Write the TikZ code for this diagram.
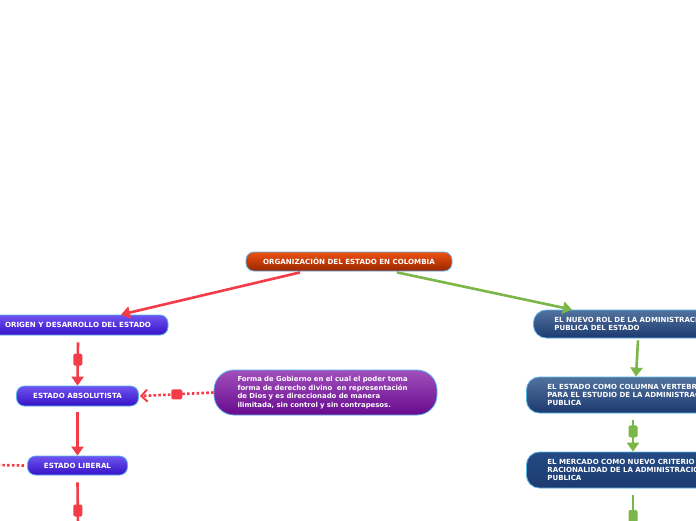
\documentclass[tikz,border=0pt]{standalone}
\usepackage{fontspec}
\setmainfont{DejaVu Sans}
\usepackage{tikz}
\usetikzlibrary{arrows.meta,positioning,calc}

\definecolor{redline}{HTML}{F43C48}
\definecolor{greenline}{HTML}{7AB648}
\definecolor{rimblue}{HTML}{5AB4EC}
\definecolor{roottop}{HTML}{EE5210}
\definecolor{rootbot}{HTML}{982600}
\definecolor{bluetop}{HTML}{6E54F0}
\definecolor{bluebot}{HTML}{3612C6}
\definecolor{violettop}{HTML}{A050BC}
\definecolor{violetbot}{HTML}{680A8E}
\definecolor{navytop}{HTML}{52729E}
\definecolor{navybot}{HTML}{1C3A70}
\definecolor{navydark}{HTML}{244A84}

\tikzset{
  pill/.style={draw=rimblue, line width=0.8pt, rounded corners=8pt, text=white,
    font=\fontsize{7.1}{8}\selectfont\bfseries, inner sep=0pt},
  rootbox/.style={pill, top color=roottop, bottom color=rootbot},
  bluebox/.style={pill, top color=bluetop, bottom color=bluebot},
  violetbox/.style={pill, rounded corners=20pt, top color=violettop, bottom color=violetbot,
    font=\fontsize{6.9}{8.7}\selectfont\bfseries, align=left, text width=176pt},
  navybox/.style={pill, rounded corners=13pt, top color=navytop, bottom color=navybot,
    align=left, text width=240pt, inner xsep=21pt, font=\fontsize{7.05}{8.2}\selectfont\bfseries},
  redarrow/.style={draw=redline, line width=2.6pt, -{Triangle[width=12pt,length=9pt]}},
  greenarrow/.style={draw=greenline, line width=2.6pt, -{Triangle[width=12pt,length=9pt]}},
  dotline/.style={draw=redline, line width=2.6pt, dash pattern=on 2.6pt off 2.2pt},
  redsq/.style={fill=redline, rounded corners=1.5pt, minimum width=9pt, minimum height=12pt, inner sep=0pt},
  greensq/.style={fill=greenline, rounded corners=1.5pt, minimum width=9pt, minimum height=12pt, inner sep=0pt}
}

\begin{document}
\begin{tikzpicture}[x=1pt,y=-1pt]
  \clip (0,0) rectangle (696,520);
  \fill[white] (0,0) rectangle (696,520);

  \node[rootbox, minimum width=206pt, minimum height=19pt] (root) at (349,261.5) {ORGANIZACIÓN DEL ESTADO EN COLOMBIA};

  \node[bluebox, minimum width=180pt, minimum height=20pt] (origen) at (78,325) {ORIGEN Y DESARROLLO DEL ESTADO};
  \node[bluebox, minimum width=122pt, minimum height=20pt] (absol) at (77.5,396) {ESTADO ABSOLUTISTA};
  \node[bluebox, minimum width=100pt, minimum height=19pt] (liberal) at (77.5,465.5) {ESTADO LIBERAL};
  \node[violetbox, minimum width=223pt, minimum height=45pt] (derecho) at (325.5,392.5)
    {Forma de Gobierno en el cual el poder toma\\forma de derecho divino \ en representación\\de Dios y es direccionado de manera\\ilimitada, sin control y sin contrapesos.};

  \node[navybox, anchor=west, minimum height=28pt] (nuevorol) at (533,324)
    {EL NUEVO ROL DE LA ADMINISTRACION\\PUBLICA DEL ESTADO};
  \node[navybox, anchor=west, minimum height=36pt] (columna) at (526,395)
    {EL ESTADO COMO COLUMNA VERTEBRAL\\PARA EL ESTUDIO DE LA ADMINISTRACION\\PUBLICA};
  \node[navybox, anchor=west, minimum height=36pt, top color=navydark] (mercado) at (526,470)
    {EL MERCADO COMO NUEVO CRITERIO DE\\RACIONALIDAD DE LA ADMINISTRACION\\PUBLICA};

  \coordinate (libout) at (-3,465);
  \coordinate (libdown) at (78,525);
  \coordinate (merdown) at (633,525);

  \draw[redarrow] ([xshift=-49pt,yshift=-1pt]root.south) -- ([xshift=43pt]origen.north);
  \draw[greenarrow] ([xshift=48pt,yshift=-1pt]root.south) -- ([xshift=39pt]nuevorol.north west);

  \draw[redarrow] ([yshift=-7pt]origen.south) -- node[redsq, pos=0.4] {} (absol.north);
  \draw[redarrow] ([yshift=-6pt]absol.south) -- (liberal.north);
  \draw[draw=redline, line width=2.6pt] ([yshift=-7pt]liberal.south) -- node[redsq, pos=0.66] {} (libdown);
  \draw[dotline, -{Straight Barb[width=12pt,length=6pt,line width=2pt]}] (derecho.west) -- node[redsq, minimum width=11pt, minimum height=10pt, solid] {} ([xshift=1pt]absol.east);
  \draw[dotline] ([xshift=-3pt]liberal.west) -- (libout);

  \draw[greenarrow] ([xshift=105pt,yshift=-2pt]nuevorol.south west) -- ([xshift=110pt]columna.north west);
  \draw[greenarrow] ([xshift=107pt,yshift=-7pt]columna.south west) -- node[greensq, pos=0.35] {} ([xshift=107pt]mercado.north west);
  \draw[draw=greenline, line width=2.6pt] ([xshift=107pt,yshift=-7pt]mercado.south west) -- node[greensq, pos=0.7] {} (merdown);
\end{tikzpicture}
\end{document}
